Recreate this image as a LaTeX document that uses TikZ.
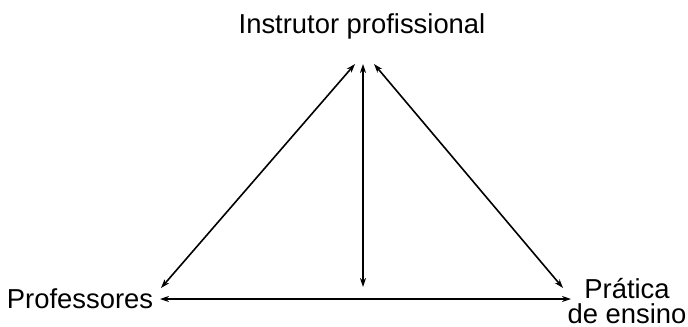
\documentclass[tikz,border=0pt]{standalone}
\usepackage{fontspec}
\setmainfont{Liberation Sans}
\usetikzlibrary{arrows.meta}

\begin{document}
\begin{tikzpicture}[x=1bp, y=-1bp, line width=1.6bp]
  \useasboundingbox (0,0) rectangle (688,326);
  \tikzset{lbl/.style={inner sep=0pt, font=\fontsize{27.5}{25}\selectfont},
           tip/.style={{Stealth[length=9bp,width=6bp]}-{Stealth[length=9bp,width=6bp]}}}

  \coordinate (T1) at (355,64);
  \coordinate (T2) at (363,64);
  \coordinate (T3) at (374,64);
  \coordinate (B1) at (161,288);
  \coordinate (B2) at (363,287);
  \coordinate (B3) at (563,288);
  \coordinate (L) at (160,299);
  \coordinate (R) at (571,299);

  \draw[tip] (B1)--(T1);
  \draw[tip] (B2)--(T2);
  \draw[tip] (T3)--(B3);
  \draw[tip] (L)--(R);

  \node[lbl, anchor=base] (I) at (362,33) {Instrutor profissional};
  \node[lbl, anchor=base] (P) at (80,308) {Professores};
  \node[lbl, align=center] (E) at (627,301) {Prática\\de ensino};
\end{tikzpicture}
\end{document}
